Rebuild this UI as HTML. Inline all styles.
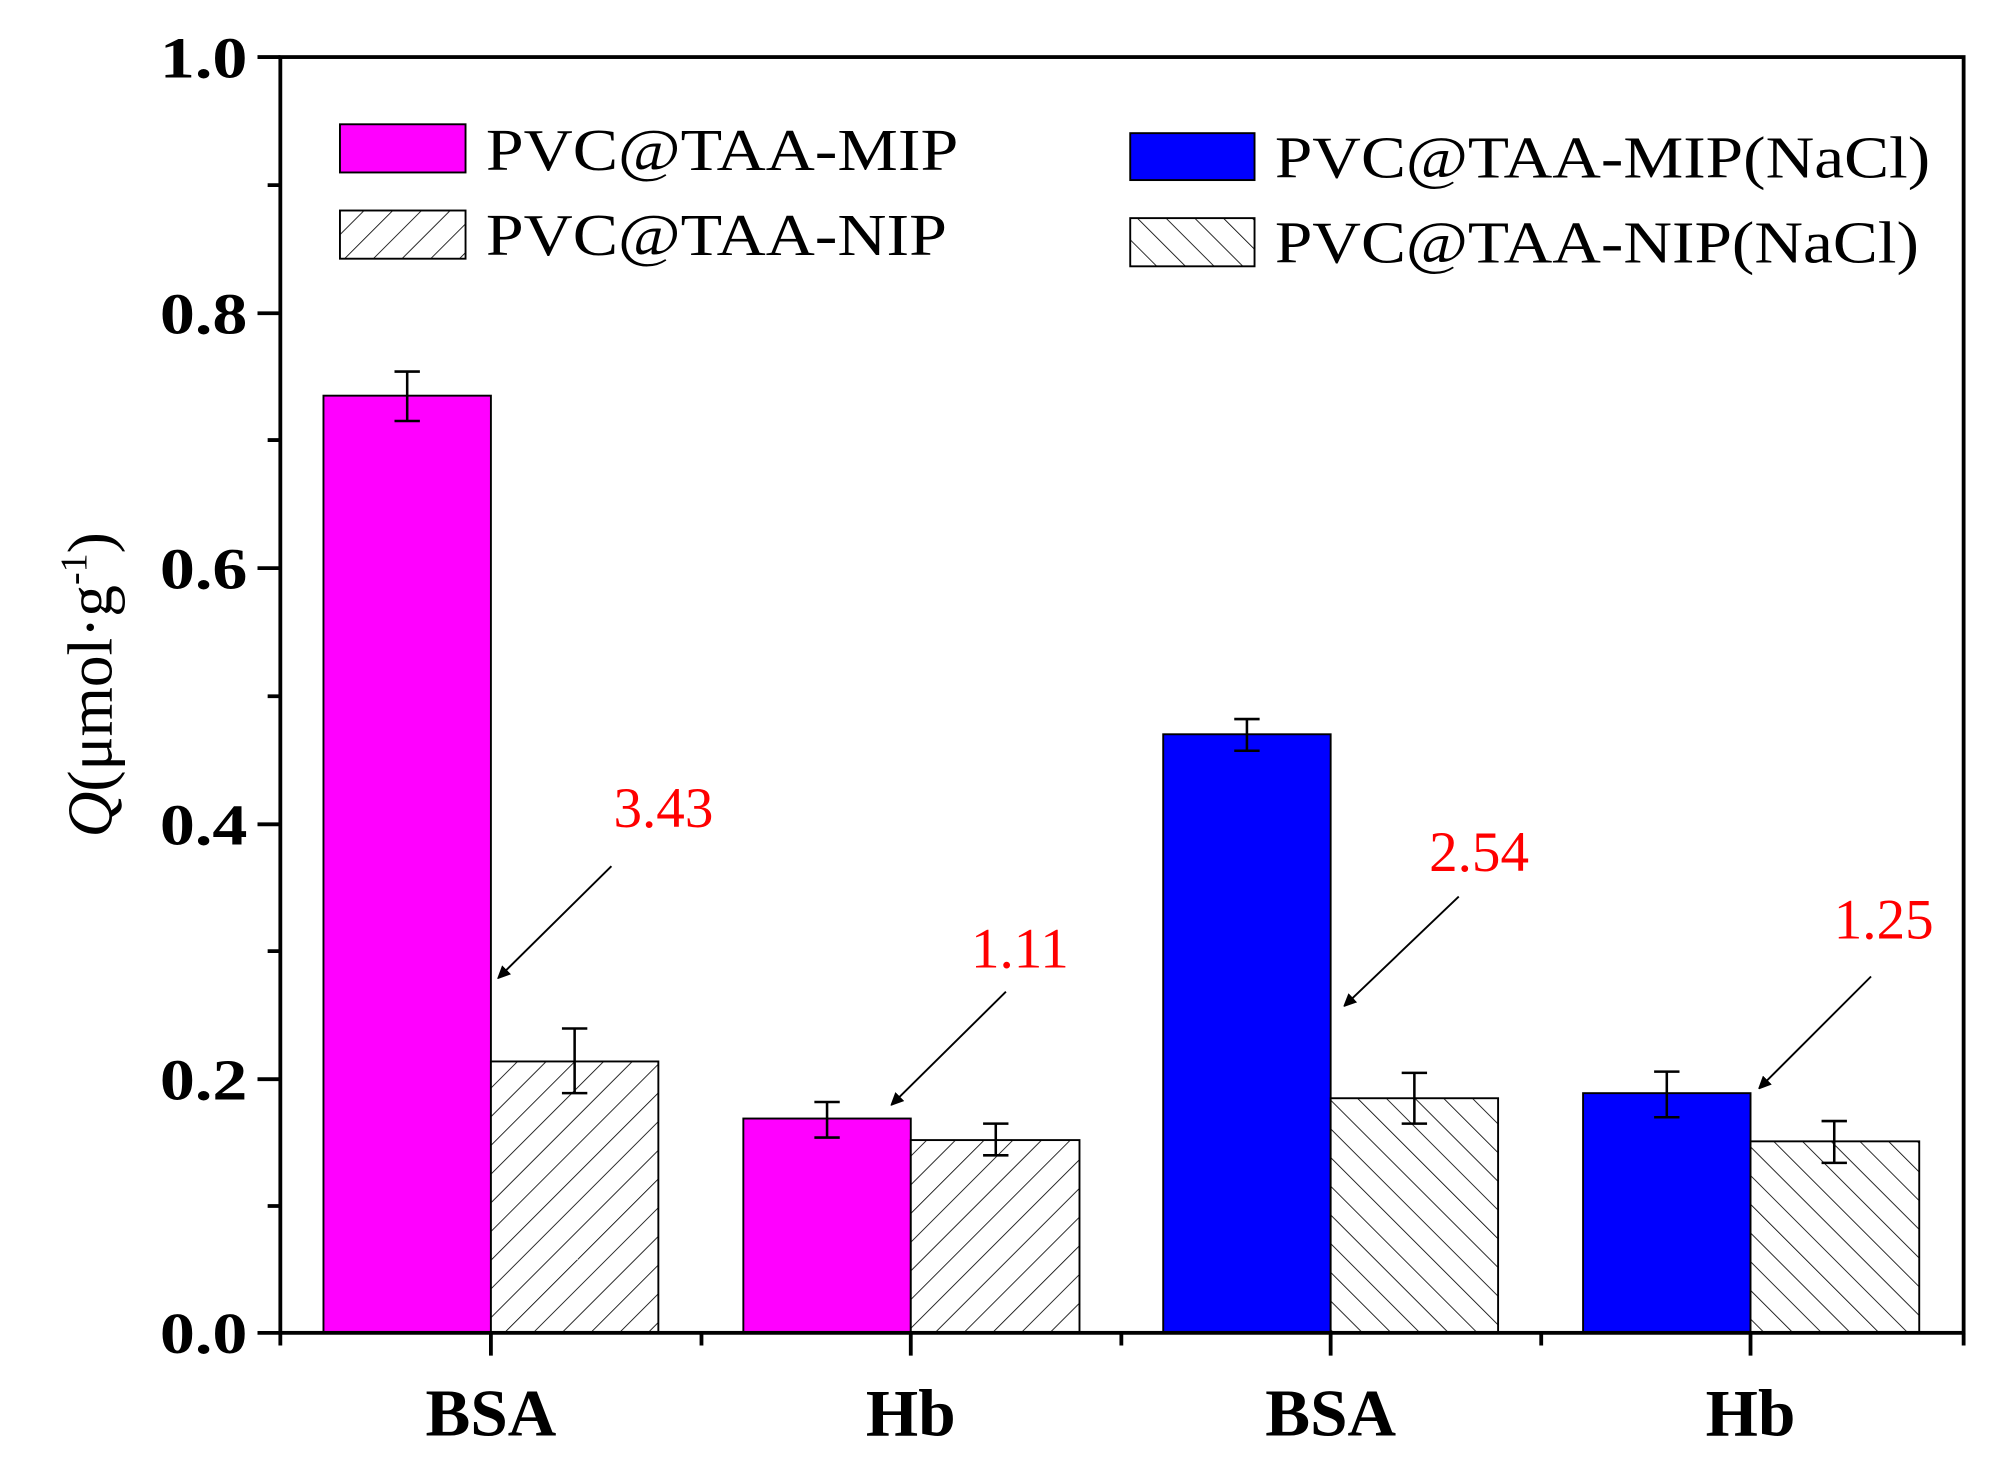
<!DOCTYPE html>
<html><head><meta charset="utf-8"><style>
html,body{margin:0;padding:0;background:#fff;}
svg{display:block;}
text{font-family:"Liberation Serif",serif;}
</style></head><body>
<svg width="1989" height="1466" viewBox="0 0 1568 1156" preserveAspectRatio="none" xmlns="http://www.w3.org/2000/svg">
<defs>
<pattern id="h1" patternUnits="userSpaceOnUse" width="16" height="16" patternTransform="rotate(45)">
<rect width="16" height="16" fill="#fff"/><line x1="0" y1="0" x2="0" y2="16" stroke="#000" stroke-width="1.3"/></pattern>
<pattern id="h2" patternUnits="userSpaceOnUse" width="16" height="16" patternTransform="rotate(-45)">
<rect width="16" height="16" fill="#fff"/><line x1="0" y1="0" x2="0" y2="16" stroke="#000" stroke-width="1.3"/></pattern>
<marker id="ar" markerWidth="10" markerHeight="10" refX="9" refY="5" orient="auto" markerUnits="userSpaceOnUse"><path d="M0,0 L18,5 L0,10 Z" transform="scale(0.6,1)" fill="#000"/></marker>
</defs>
<rect width="1568" height="1156" fill="#fff"/>
<g stroke="#000" stroke-width="1.5">
<rect x="255" y="312" width="132" height="739" fill="#ff00ff"/>
<rect x="387" y="837" width="132" height="214" fill="url(#h1)"/>
<rect x="586" y="882" width="132" height="169" fill="#ff00ff"/>
<rect x="718" y="899" width="133" height="152" fill="url(#h1)"/>
<rect x="917" y="579" width="132" height="472" fill="#0000ff"/>
<rect x="1049" y="866" width="132" height="185" fill="url(#h2)"/>
<rect x="1248" y="862" width="132" height="189" fill="#0000ff"/>
<rect x="1380" y="900" width="133" height="151" fill="url(#h2)"/>
</g>
<g stroke="#000" stroke-width="2" fill="none">
<path d="M321,293V332M311,293H331M311,332H331"/>
<path d="M453,811V862M443,811H463M443,862H463"/>
<path d="M652,869V897M642,869H662M642,897H662"/>
<path d="M785,886V911M775,886H795M775,911H795"/>
<path d="M983,567V592M973,567H993M973,592H993"/>
<path d="M1115,846V886M1105,846H1125M1105,886H1125"/>
<path d="M1314,845V881M1304,845H1324M1304,881H1324"/>
<path d="M1446,884V917M1436,884H1456M1436,917H1456"/>
</g>
<rect x="221" y="45" width="1327" height="1006" fill="none" stroke="#000" stroke-width="3"/>
<g stroke="#000" stroke-width="3">
<path d="M221,45H203M221,247H203M221,448H203M221,650H203M221,851H203M221,1051H203"/>
<path d="M221,146H211M221,347H211M221,549H211M221,750H211M221,951H211"/>
<path d="M387,1051V1069M718,1051V1069M1049,1051V1069M1380,1051V1069"/>
<path d="M221,1051V1061M553,1051V1061M884,1051V1061M1215,1051V1061M1548,1051V1061"/>
</g>
<g font-size="46" font-weight="bold" text-anchor="end">
<text transform="translate(195,61) scale(1.2,1)">1.0</text>
<text transform="translate(195,263) scale(1.2,1)">0.8</text>
<text transform="translate(195,464) scale(1.2,1)">0.6</text>
<text transform="translate(195,666) scale(1.2,1)">0.4</text>
<text transform="translate(195,867) scale(1.2,1)">0.2</text>
<text transform="translate(195,1067) scale(1.2,1)">0.0</text>
</g>
<g font-size="53" font-weight="bold" text-anchor="middle">
<text x="387" y="1132">BSA</text>
<text x="718" y="1132">Hb</text>
<text x="1049" y="1132">BSA</text>
<text x="1380" y="1132">Hb</text>
</g>
<text transform="translate(88,540) rotate(-90)" font-size="50" text-anchor="middle"><tspan font-style="italic">Q</tspan>(μmol·g<tspan font-size="30" dy="-20">-1</tspan><tspan dy="20">)</tspan></text>
<g stroke="#000" stroke-width="1.5">
<rect x="268" y="98" width="99" height="38" fill="#ff00ff"/>
<rect x="268" y="166" width="99" height="38" fill="url(#h1)"/>
<rect x="891" y="105" width="98" height="37" fill="#0000ff"/>
<rect x="891" y="172" width="98" height="38" fill="url(#h2)"/>
</g>
<g font-size="47">
<text transform="translate(383,134) scale(1.14,1)">PVC@TAA-MIP</text>
<text transform="translate(383,201) scale(1.14,1)">PVC@TAA-NIP</text>
<text transform="translate(1005,140) scale(1.13,1)">PVC@TAA-MIP(NaCl)</text>
<text transform="translate(1005,207) scale(1.13,1)">PVC@TAA-NIP(NaCl)</text>
</g>
<g font-size="45" fill="#ff0000" text-anchor="middle">
<text x="523" y="652">3.43</text>
<text x="804" y="763">1.11</text>
<text x="1166" y="687">2.54</text>
<text x="1485" y="740">1.25</text>
</g>
<g stroke="#000" stroke-width="1.5" marker-end="url(#ar)">
<line x1="482" y1="683" x2="393" y2="771"/>
<line x1="793" y1="782" x2="703" y2="871"/>
<line x1="1150" y1="707" x2="1060" y2="793"/>
<line x1="1475" y1="770" x2="1387" y2="858"/>
</g>
</svg>
</body></html>
